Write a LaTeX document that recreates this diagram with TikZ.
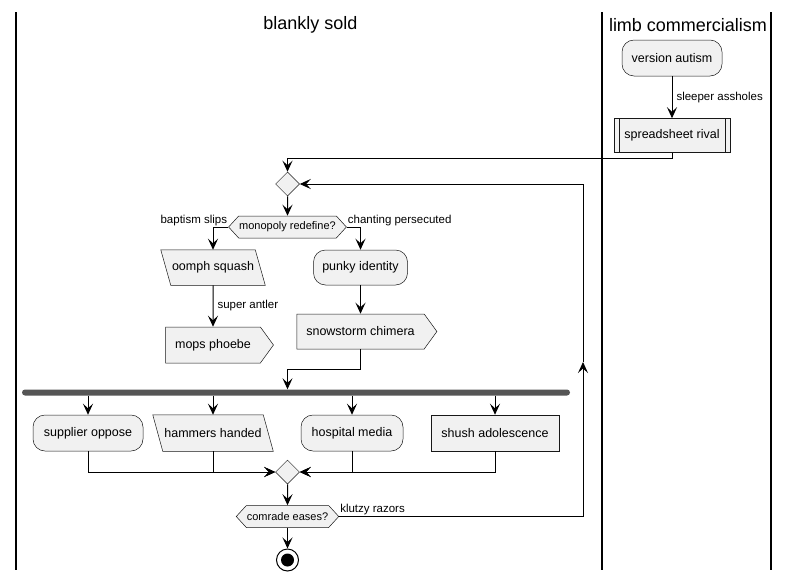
\documentclass[tikz,border=0pt]{standalone}
\usepackage{fontspec}
\setmainfont{Liberation Sans}
\usetikzlibrary{shapes.geometric,shapes.symbols,arrows.meta,positioning,calc,backgrounds}
\definecolor{boxfill}{RGB}{241,241,241}
\definecolor{boxline}{RGB}{24,24,24}
\definecolor{forkbar}{RGB}{85,85,85}

\tikzset{
	boxbase/.style={draw=boxline, line width=0.5pt, fill=boxfill, font=\fontsize{12.5}{15}\selectfont, inner sep=0pt, minimum height=36pt},
	actbox/.style={boxbase, rectangle, rounded corners=12pt},
	iobox/.style={boxbase, rectangle, draw=none, fill=none},
	ioshape/.style={draw=boxline, line width=0.5pt, fill=boxfill},
	sendbox/.style={boxbase, signal, signal to=east, signal pointer angle=108, inner xsep=9.5pt},
	plainbox/.style={boxbase, rectangle},
	ifbox/.style={boxbase, signal, signal to=west and east, signal pointer angle=95, minimum height=22pt, inner xsep=0.5pt, font=\fontsize{11}{13}\selectfont},
	merge/.style={diamond, aspect=1, draw=boxline, line width=0.5pt, fill=boxfill, minimum size=24pt, inner sep=0pt},
	lbl/.style={font=\fontsize{11.5}{13}\selectfont, inner sep=1pt},
	flow/.style={line width=1pt, -{Stealth[length=11pt,width=10pt,inset=4.5pt]}},
	lane/.style={line width=1.5pt}
}

\begin{document}
\begin{tikzpicture}[x=1pt, y=-1pt]
	\begin{scope}[on background layer]
		\fill[white] (0,0) rectangle (789,581);
	\end{scope}
	\useasboundingbox (0,0) rectangle (789,581);
	\draw[lane] (16,12) -- (16,570);
	\draw[lane] (602,12) -- (602,570);
	\draw[lane] (771,12) -- (771,570);
	\node[font=\fontsize{18}{21}\selectfont] (sold) at (310.5,25) {blankly sold};
	\node[font=\fontsize{18}{21}\selectfont] (limb) at (688,25) {limb commercialism};

	\node[actbox, minimum width=100pt] (version) at (672,58) {version autism};
	\node[plainbox, minimum width=116pt, minimum height=34pt, below=42pt of version] (rival) {spreadsheet rival};
	\draw[boxline, line width=0.5pt] ([xshift=5pt]rival.north west) -- ([xshift=5pt]rival.south west);
	\draw[boxline, line width=0.5pt] ([xshift=-5pt]rival.north east) -- ([xshift=-5pt]rival.south east);
	\draw[flow] (version) -- node[lbl, anchor=west, xshift=3pt] (sleeper) {sleeper assholes} (rival);

	\node[merge] (loop) at (287.5,184) {};
	\draw[flow] (rival.south) -- ++(0,6) -| (loop.north);
	\node[ifbox] (mono) at (287.5,227) {monopoly redefine?};
	\draw[flow] (loop) -- (mono);
	\node[lbl, anchor=south east] (slips) at (mono.west) {baptism slips};
	\node[lbl, anchor=south west] (chant) at (mono.east) {chanting persecuted};

	\node[iobox, minimum width=104pt, minimum height=35pt] (oomph) at (213,267.5) {oomph squash};
	\node[actbox, minimum width=94pt, minimum height=35pt] (punky) at (360.5,267.5) {punky identity};
	\draw[flow] (mono.west) -| (oomph.north);
	\draw[flow] (mono.east) -| (punky.north);
	\node[sendbox] (mops) at (213,345) {mops phoebe};
	\draw[flow] (oomph) -- node[lbl, anchor=west, xshift=3pt] (antler) {super antler} (mops);
	\node[sendbox, minimum height=35pt] (snow) at (360.5,331.5) {snowstorm chimera};
	\draw[flow] (punky) -- (snow);

	\node[fill=forkbar, rounded corners=3pt, minimum width=548pt, minimum height=6pt, inner sep=0pt] (fork) at (296,392.5) {};
	\draw[flow] (snow.south) -- ++(0,20) -| (fork.north -| loop);

	\node[actbox, minimum width=110pt] (supplier) at (88,433) {supplier oppose};
	\node[iobox, minimum width=120pt] (hammers) at (213,433) {hammers handed};
	\node[actbox, minimum width=102pt] (hospital) at (352,433) {hospital media};
	\node[plainbox, minimum width=128pt] (shush) at (495,433) {shush adolescence};
	\draw[flow] (fork.south -| supplier) -- (supplier);
	\draw[flow] (fork.south -| hammers) -- (hammers);
	\draw[flow] (fork.south -| hospital) -- (hospital);
	\draw[flow] (fork.south -| shush) -- (shush);

	\begin{scope}[on background layer]
		\foreach \n in {oomph,hammers}
			\filldraw[ioshape] (\n.north west) -- ([xshift=-10pt]\n.north east) -- (\n.south east) -- ([xshift=10pt]\n.south west) -- cycle;
	\end{scope}

	\node[merge] (join) at (287.5,472) {};
	\draw[flow] (supplier.south) |- (join.west);
	\draw[flow] (hammers.south) |- (join.west);
	\draw[flow] (hospital.south) |- (join.east);
	\draw[flow] (shush.south) |- (join.east);

	\node[ifbox] (eases) at (287.5,516.5) {comrade eases?};
	\draw[flow] (join) -- (eases);
	\node[lbl, anchor=south west] (razors) at (eases.east) {klutzy razors};
	\coordinate (back) at (583,362);
	\draw[flow] (eases.east) -| (back);
	\draw[flow] (back) |- (loop.east);

	\node[circle, draw=black, line width=1pt, fill=white, minimum size=22pt, inner sep=0pt] (stop) at (287.5,560) {};
	\fill[black] (stop.center) circle (6.5pt);
	\draw[flow] (eases) -- (stop);
\end{tikzpicture}
\end{document}
